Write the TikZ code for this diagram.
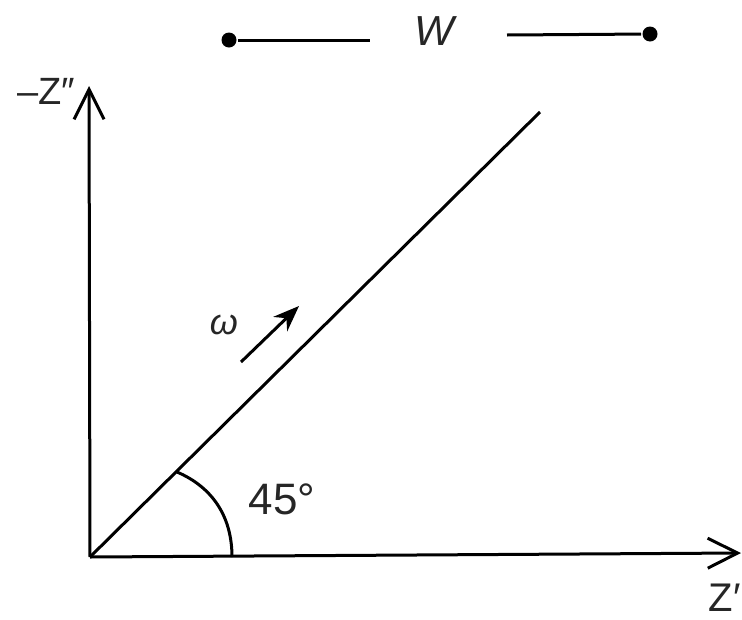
\documentclass[tikz,border=0pt]{standalone}
\usepackage{fontspec}
\setmainfont{Liberation Sans}
\usetikzlibrary{arrows.meta}
\begin{document}
\begin{tikzpicture}[x=1pt,y=-1pt,line width=3pt,
  axisarrow/.style={-{Straight Barb[length=30pt,width=30pt,line width=3pt]}},
  dotnode/.style={circle,fill=black,inner sep=0pt,minimum size=15pt},
  lbl/.style={inner sep=0pt,text=black!85}]
\useasboundingbox (0,0) rectangle (742,619);
% axes
\coordinate (O) at (90,557);
\coordinate (Ytop) at (89,86);
\coordinate (Xend) at (741,553);
\coordinate (D) at (540,112);
\draw[axisarrow] (O) -- (Ytop);
\draw[axisarrow] (O) -- (Xend);
\draw (O) -- (D);
% angle arc
\coordinate (A1) at (232,557);
\coordinate (A2) at (177,472);
\draw (A1) .. controls (232,516) and (212,487) .. (A2);
\node[lbl,font=\fontsize{44}{46}\selectfont] (ang) at (282,499) {45°};
% omega arrow
\coordinate (wa) at (241,362);
\coordinate (wb) at (299,306);
\draw[-{Stealth[length=26pt,width=20pt]}] (wa) -- (wb);
\node[lbl,font=\fontsize{36}{38}\selectfont\itshape] (om) at (224,325) {ω};
% labels
\node[lbl,font=\fontsize{38}{40}\selectfont] (zz) at (46,91) {–Z″};
\node[lbl,font=\fontsize{40}{42}\selectfont,anchor=east] (z1) at (742,598) {Z′};
% W
\node[dotnode] (wl) at (229,40) {};
\node[dotnode] (wr) at (650,34) {};
\coordinate (wle) at (370,40);
\coordinate (wrs) at (507,35);
\draw (wl) -- (wle);
\draw (wrs) -- (wr);
\node[lbl,font=\fontsize{42}{44}\selectfont\itshape] (W) at (434,31) {W};
\end{tikzpicture}
\end{document}
